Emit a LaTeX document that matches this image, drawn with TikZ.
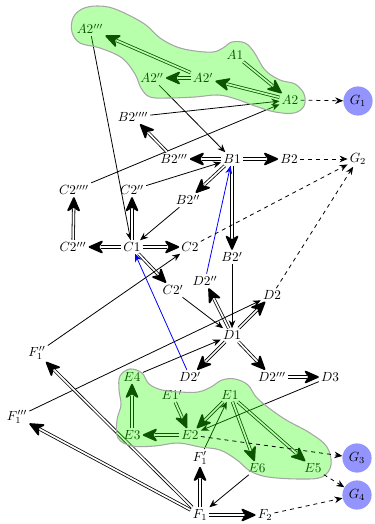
\documentclass[tikz,border=0pt]{standalone}
\usepackage{amsmath, amssymb}
\usetikzlibrary{arrows.meta, positioning}

\begin{document}
\begin{tikzpicture}[x=0.0265cm, y=0.0265cm, yscale=-1, >=Stealth]
	
	\tikzset{
		lab/.style={inner sep=1.5pt},
		goal/.style={circle, fill=blue!42, minimum size=22pt, inner sep=0pt},
		dbl/.style={double, double distance=1.3pt, line width=0.6pt, shorten >=9pt},
		dbltip/.style={line width=1.3pt, -{Stealth[length=12.5pt, width=11pt, inset=3.5pt, round]}},
		arr/.style={semithick, -{Stealth[length=6pt, width=5pt]}},
		dep/.style={semithick, dashed, -{Stealth[length=6pt, width=5pt]}},
		barr/.style={semithick, blue, -{Stealth[length=6pt, width=5pt]}},
		blob/.style={draw=gray!70, line width=0.8pt, fill=green!85!yellow, fill opacity=0.33}
	}
	
	% double arrow: the shaft, then a solid head on its last bit
	\newcommand{\impl}[2]{
		\draw[dbl] (#1) -- (#2) coordinate[pos=0.97] (h1) coordinate[pos=1] (h2);
		\draw[dbltip] (h1) -- (h2);
	}
	
	\useasboundingbox (0,0) rectangle (374,524);
	
	% A level
	\node[lab] (a2ppp) at (90,29) {$A2'''$};
	\node[lab] (a1) at (235,55) {$A1$};
	\node[lab] (a2pp) at (152,78) {$A2''$};
	\node[lab] (a2p) at (203,78) {$A2'$};
	\node[lab] (a2) at (290,100) {$A2$};
	\node[goal] (g1) at (358,101) {$G_1$};
	
	% B level
	\node[lab] (b2pppp) at (133,117) {$B2''''$};
	\node[lab] (b2ppp) at (174,159) {$B2'''$};
	\node[lab] (b1) at (232,159) {$B1$};
	\node[lab] (b2) at (289,159) {$B2$};
	\node[lab] (g2) at (358,159) {$G_2$};
	\node[lab] (b2pp) at (188,200) {$B2''$};
	\node[lab] (b2p) at (232,257) {$B2'$};
	
	% C level
	\node[lab] (c2pppp) at (74,190) {$C2''''$};
	\node[lab] (c2pp) at (132,190) {$C2''$};
	\node[lab] (c2ppp) at (73,247) {$C2'''$};
	\node[lab] (c1) at (132,247) {$C1$};
	\node[lab] (c2) at (190,247) {$C2$};
	\node[lab] (c2p) at (173,290) {$C2'$};
	
	% D level
	\node[lab] (d2pp) at (205,281) {$D2''$};
	\node[lab] (d2) at (272,295) {$D2$};
	\node[lab] (d1) at (232,335) {$D1$};
	\node[lab] (d2p) at (190,377) {$D2'$};
	\node[lab] (d2ppp) at (272,377) {$D2'''$};
	\node[lab] (d3) at (330,377) {$D3$};
	
	% E level
	\node[lab] (e4) at (132,377) {$E4$};
	\node[lab] (e1p) at (172,395) {$E1'$};
	\node[lab] (e1) at (230,395) {$E1$};
	\node[lab] (e3) at (132,435) {$E3$};
	\node[lab] (e2) at (190,435) {$E2$};
	\node[lab] (e6) at (257,468) {$E6$};
	\node[lab] (e5) at (313,468) {$E5$};
	
	% F level
	\node[lab] (f1pp) at (37,353) {$F_1''$};
	\node[lab] (f1ppp) at (17,417) {$F_1'''$};
	\node[lab] (f1p) at (200,458) {$F_1'$};
	\node[lab] (f1) at (200,515) {$F_1$};
	\node[lab] (f2) at (265,515) {$F_2$};
	
	% A edges
	\impl{a1}{a2}
	\impl{a2}{a2p}
	\impl{a2p}{a2pp}
	\impl{a2p}{a2ppp}
	\draw[arr] (b2pppp) -- (a2);
	\draw[arr] (c2pppp) -- (a2);
	\draw[arr] (a2ppp) -- (c1);
	\draw[arr] (a2pp) -- (b1);
	
	% B edges
	\impl{b1}{b2ppp}
	\impl{b2ppp}{b2pppp}
	\impl{b1}{b2}
	\impl{b1}{b2pp}
	\impl{b1}{b2p}
	\draw[arr] (c2pp) -- (b1);
	\draw[arr] (b2pp) -- (c1);
	
	% C edges
	\impl{c1}{c2pp}
	\impl{c1}{c2ppp}
	\impl{c2ppp}{c2pppp}
	\impl{c1}{c2}
	\impl{c1}{c2p}
	\draw[arr] (c2p) -- (d1);
	\draw[arr] (b2p) -- (d1);
	
	% D edges
	\impl{d1}{d2pp}
	\impl{d1}{d2}
	\impl{d1}{d2p}
	\impl{d1}{d2ppp}
	\impl{d2ppp}{d3}
	\draw[barr] (d2pp) -- (b1);
	\draw[barr] (d2p) -- (c1);
	
	% E and F edges
	\impl{e1}{e2}
	\impl{e1p}{e2}
	\impl{e2}{e3}
	\impl{e3}{e4}
	\impl{e1}{e6}
	\impl{e1}{e5}
	\draw[arr] (e4) -- (d1);
	\draw[arr] (d3) -- (e2);
	\draw[arr] (f1p) -- (e1);
	\draw[arr] (e6) -- (f1);
	\draw[arr] (f1pp) -- (c2);
	\draw[arr] (f1ppp) -- (d2);
	\impl{f1}{f1p}
	\impl{f1}{f2}
	\impl{f1}{f1pp}
	\impl{f1}{f1ppp}
	
	% goals
	\draw[dep] (a2) -- (g1);
	\draw[dep] (b2) -- (g2);
	\draw[dep] (c2) -- (g2);
	\draw[dep] (d2) -- (g2);
	
	% groups, drawn over the edges
	\draw[blob] plot[smooth cycle, tension=0.6] coordinates {
		(73,18) (82,9) (97,6) (115,9) (143,23) (160,38) (177,47) (195,51) (213,52)
		(223,48) (232,42) (245,43) (254,52) (265,70) (280,80) (295,84) (304,94)
		(304,106) (294,113) (275,112) (255,106) (236,99) (218,95) (195,97) (168,98)
		(150,97) (141,88) (135,74) (122,58) (100,48) (80,43) (72,32)};
	\draw[blob] plot[smooth cycle, tension=0.6] coordinates {
		(120,376) (130,369) (142,373) (149,384) (162,390) (180,392) (198,392)
		(211,387) (222,380) (235,379) (248,385) (258,399) (283,418) (310,433)
		(327,447) (331,465) (322,477) (300,479) (268,477) (250,471) (237,460)
		(220,450) (200,447) (178,443) (155,446) (132,446) (118,438) (117,420)
		(121,405) (119,390)};
	
	\node[goal] (g3) at (357,458) {$G_3$};
	\node[goal] (g4) at (357,495) {$G_4$};
	\draw[dep] (e2) -- (g3);
	\draw[dep] (e5) -- (g4);
	\draw[dep] (f2) -- (g4);
	
\end{tikzpicture}
\end{document}
